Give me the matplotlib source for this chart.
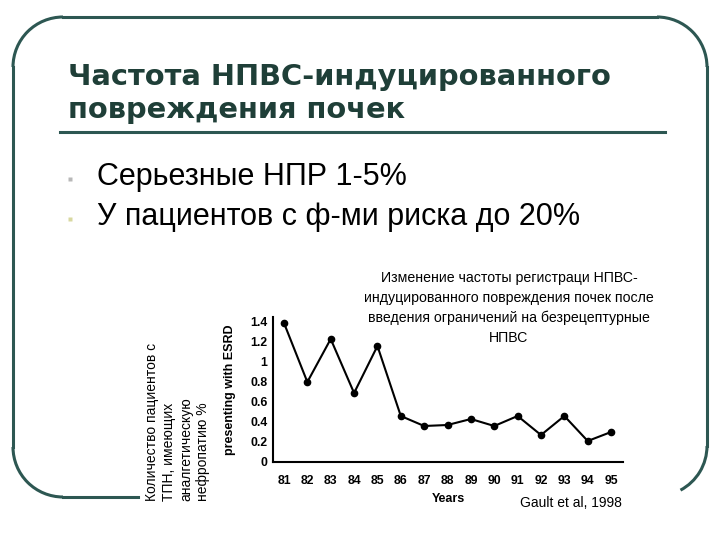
import matplotlib.pyplot as plt
from matplotlib.patches import Arc

years = ["81", "82", "83", "84", "85", "86", "87", "88", "89", "90",
         "91", "92", "93", "94", "95"]
esrd_pct = [1.39, 0.80, 1.23, 0.69, 1.16, 0.46, 0.36, 0.37, 0.43, 0.36,
            0.46, 0.27, 0.46, 0.21, 0.30]
y_ticks = [0, 0.2, 0.4, 0.6, 0.8, 1, 1.2, 1.4]
y_tick_labels = ["0", "0.2", "0.4", "0.6", "0.8", "1", "1.2", "1.4"]

title_lines = ["Частота НПВС-индуцированного", "повреждения почек"]
bullets = ["Серьезные НПР 1-5%", "У пациентов с ф-ми риска до 20%"]
caption = ("Изменение частоты регистраци НПВС-\n"
           "индуцированного повреждения почек после\n"
           "введения ограничений на безрецептурные\n"
           "НПВС")
ru_ylabel = ["Количество пациентов с", "ТПН, имеющих",
             "аналгетическую", "нефропатию %"]

frame_color = "#2d5752"
title_color = "#1f3f38"

fig = plt.figure(figsize=(7.2, 5.4), dpi=100)

# slide background layer in pixel coordinates
bg = fig.add_axes([0, 0, 1, 1])
bg.set_xlim(0, 720)
bg.set_ylim(540, 0)
bg.axis("off")

r = 50
lw = 2.2
# top edge and top corners
bg.plot([13 + r, 707 - r], [17, 17], color=frame_color, lw=lw)
bg.add_patch(Arc((13 + r, 17 + r), 2 * r, 2 * r, theta1=180, theta2=270,
                 color=frame_color, lw=lw))
bg.add_patch(Arc((707 - r, 17 + r), 2 * r, 2 * r, theta1=270, theta2=360,
                 color=frame_color, lw=lw))
# left edge with bottom-left corner
bg.plot([13, 13], [17 + r, 497 - r], color=frame_color, lw=lw)
bg.add_patch(Arc((13 + r, 497 - r), 2 * r, 2 * r, theta1=90, theta2=180,
                 color=frame_color, lw=lw))
bg.plot([13 + r, 138], [497, 497], color=frame_color, lw=lw)
# right edge with partial bottom-right corner
bg.plot([707, 707], [17 + r, 446], color=frame_color, lw=lw)
bg.add_patch(Arc((707 - r, 446), 2 * r, 2 * r, theta1=0, theta2=62,
                 color=frame_color, lw=lw))

for i, line in enumerate(title_lines):
    bg.text(68, 85 + i * 33, line, fontsize=20.8, fontweight="bold",
            color=title_color, family="DejaVu Sans", va="baseline")
bg.plot([60, 665], [132, 132], color=frame_color, lw=2.2)

for i, b in enumerate(bullets):
    yy = 177 + i * 40
    bg.plot(70, yy + 2, marker="s", markersize=3.5,
            color="#b8b8b8" if i == 0 else "#d8d8a0", mec="none")
    bg.text(97, yy, b, fontsize=22, family="Liberation Sans", va="center")

bg.text(509, 308, caption, fontsize=10.2, family="Liberation Sans",
        ha="center", va="center", linespacing=1.5)
bg.text(622, 503, "Gault et al, 1998", fontsize=10, family="Liberation Sans",
        ha="right", va="center")

for i, line in enumerate(ru_ylabel):
    bg.text(152 + i * 17, 501, line, fontsize=10, family="Liberation Sans",
            rotation=90, ha="center", va="bottom")

# data chart
ax = fig.add_axes([273 / 720, 1 - 462 / 540, 350 / 720, 145 / 540])
ax.plot(range(len(years)), esrd_pct, color="black", lw=1.5,
        marker="o", markersize=4.5)
ax.set_xlim(-0.47, 14.51)
ax.set_ylim(0, 1.45)
ax.set_yticks(y_ticks)
ax.set_yticklabels(y_tick_labels)
ax.set_xticks(range(len(years)))
ax.set_xticklabels(years)
ax.tick_params(length=0, labelsize=8.8, pad=4)
ax.tick_params(axis="x", pad=9)
for lab in ax.get_xticklabels() + ax.get_yticklabels():
    lab.set_fontweight("bold")
    lab.set_family("Liberation Sans")
for s in ["top", "right"]:
    ax.spines[s].set_visible(False)
for s in ["left", "bottom"]:
    ax.spines[s].set_linewidth(1.5)
ax.patch.set_alpha(0)
ax.set_xlabel("Years", fontsize=9, fontweight="bold", family="Liberation Sans",
              labelpad=5)
ax.set_ylabel("presenting with ESRD", fontsize=9, fontweight="bold",
              family="Liberation Sans", labelpad=10)

fig.savefig("out.png", dpi=100)
